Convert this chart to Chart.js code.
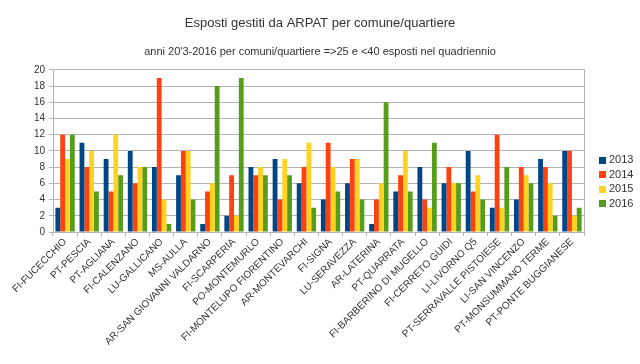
<!DOCTYPE html>
<html>
<head>
<meta charset="utf-8">
<script src="https://cdn.jsdelivr.net/npm/chart.js@4.4.1/dist/chart.umd.min.js"></script>
<style>
html, body { margin: 0; padding: 0; background: #fff; }
#wrap { width: 640px; height: 364px; }
</style>
</head>
<body>
<div id="wrap"><canvas id="esposti"></canvas></div>
<script>
// dati
const comuni = [
  "FI-FUCECCHIO", "PT-PESCIA", "PT-AGLIANA", "FI-CALENZANO", "LU-GALLICANO",
  "MS-AULLA", "AR-SAN GIOVANNI VALDARNO", "FI-SCARPERIA", "PO-MONTEMURLO",
  "FI-MONTELUPO FIORENTINO", "AR-MONTEVARCHI", "FI-SIGNA", "LU-SERAVEZZA",
  "AR-LATERINA", "PT-QUARRATA", "FI-BARBERINO DI MUGELLO", "FI-CERRETO GUIDI",
  "LI-LIVORNO Q5", "PT-SERRAVALLE PISTOIESE", "LI-SAN VINCENZO",
  "PT-MONSUMMANO TERME", "PT-PONTE BUGGIANESE"
];
const anni = ["2013", "2014", "2015", "2016"];
const v2013 = [3, 11, 9, 10, 8, 7, 1, 2, 8, 9, 6, 4, 6, 1, 5, 8, 6, 10, 3, 4, 9, 10];
const v2014 = [12, 8, 5, 6, 19, 10, 5, 7, 7, 4, 8, 11, 9, 4, 7, 4, 8, 5, 12, 8, 8, 10];
const v2015 = [9, 10, 12, 8, 4, 10, 6, 2, 8, 9, 11, 8, 9, 6, 10, 3, 6, 7, 3, 7, 6, 2];
const v2016 = [12, 5, 7, 8, 1, 4, 18, 19, 7, 7, 3, 5, 4, 16, 5, 11, 6, 4, 8, 6, 2, 3];
const yTicks = [0, 2, 4, 6, 8, 10, 12, 14, 16, 18, 20];

const colori = ["#004586", "#ff420e", "#ffd320", "#579d1c"];
const font = "'Liberation Sans', Arial, sans-serif";

// legenda a destra, centrata sull'altezza
const legendaDestra = {
  id: 'legendaDestra',
  afterDraw(chart) {
    const ctx = chart.ctx;
    const sets = chart.data.datasets;
    const step = 14.5;
    const x = chart.chartArea.right + 15;
    let y = chart.height / 2 - step * (sets.length - 1) / 2;
    ctx.save();
    ctx.font = '11px ' + font;
    ctx.textBaseline = 'middle';
    sets.forEach(ds => {
      ctx.fillStyle = ds.backgroundColor;
      ctx.fillRect(x, Math.round(y - 3.5), 7, 7);
      ctx.fillStyle = '#333';
      ctx.fillText(ds.label, x + 10, y);
      y += step;
    });
    ctx.restore();
  }
};

const serie = [v2013, v2014, v2015, v2016];

new Chart(document.getElementById('esposti'), {
  type: 'bar',
  data: {
    labels: comuni,
    datasets: serie.map((vals, i) => ({
      label: anni[i],
      data: vals,
      backgroundColor: colori[i],
      borderWidth: 0,
      barPercentage: 1,
      categoryPercentage: 0.8
    }))
  },
  options: {
    responsive: true,
    maintainAspectRatio: false,
    animation: false,
    layout: { padding: 0 },
    plugins: {
      legend: { display: false },
      tooltip: { enabled: false },
      title: {
        display: true,
        text: 'Esposti gestiti da ARPAT per comune/quartiere',
        color: '#333',
        font: { family: font, size: 13, weight: 'normal' },
        padding: { top: 16, bottom: 6 }
      },
      subtitle: {
        display: true,
        text: "anni 20'3-2016 per comuni/quartiere =>25 e <40 esposti nel quadriennio",
        color: '#333',
        font: { family: font, size: 11, weight: 'normal' },
        padding: { top: 8, bottom: 11 }
      }
    },
    scales: {
      x: {
        grid: { display: true, drawOnChartArea: false, color: '#b3b3b3', tickLength: 4 },
        border: { color: '#b3b3b3' },
        ticks: {
          color: '#333',
          font: { family: font, size: 10 },
          minRotation: 45,
          maxRotation: 45,
          autoSkip: false,
          padding: 0
        },
        afterFit(scale) { scale.height = 132; }
      },
      y: {
        min: 0,
        max: 20,
        afterBuildTicks(scale) { scale.ticks = yTicks.map(v => ({ value: v })); },
        grid: { color: '#b3b3b3', tickLength: 4 },
        border: { color: '#b3b3b3' },
        ticks: {
          color: '#333',
          font: { family: font, size: 10 },
          padding: 4
        },
        afterFit(scale) { scale.width = 53; }
      },
      // asse fittizio: bordo destro e spazio per la legenda
      yDestra: {
        position: 'right',
        min: 0,
        max: 20,
        grid: { display: false },
        border: { display: true, color: '#b3b3b3' },
        ticks: { display: false },
        afterFit(scale) { scale.width = 56; }
      }
    }
  },
  plugins: [legendaDestra]
});
</script>
</body>
</html>
